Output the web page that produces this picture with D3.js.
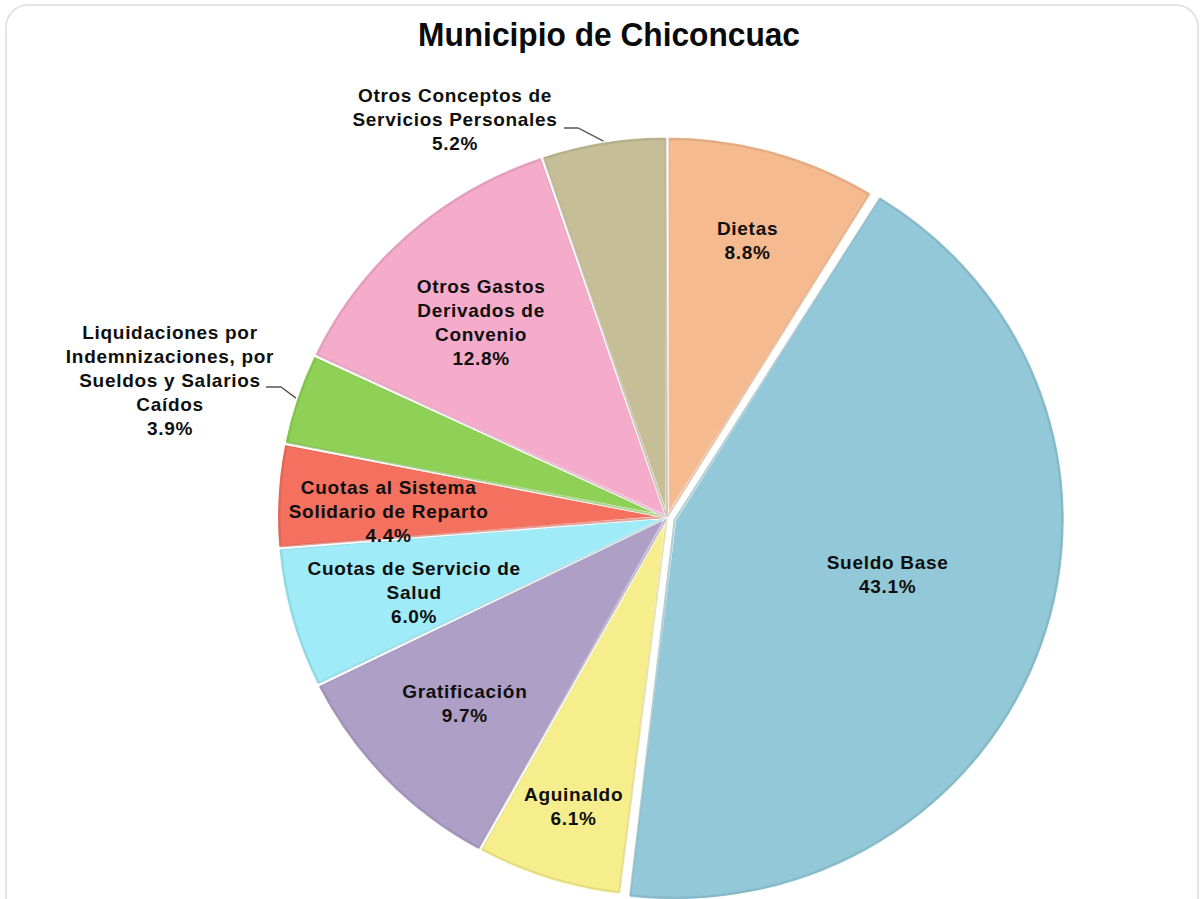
<!DOCTYPE html>
<html>
<head>
<meta charset="utf-8">
<script src="https://cdn.jsdelivr.net/npm/d3@7"></script>
<style>
  html, body { margin: 0; padding: 0; background: #ffffff; }
  svg { display: block; }
</style>
</head>
<body>
<svg id="chart" width="1204" height="899"></svg>
<script>
// ---- data ----
const categories = [
  "Dietas",
  "Sueldo Base",
  "Aguinaldo",
  "Gratificación",
  "Cuotas de Servicio de\nSalud",
  "Cuotas al Sistema\nSolidario de Reparto",
  "Liquidaciones por\nIndemnizaciones, por\nSueldos y Salarios\nCaídos",
  "Otros Gastos\nDerivados de\nConvenio",
  "Otros Conceptos de\nServicios Personales"
];
const values = [8.8, 43.1, 6.1, 9.7, 6.0, 4.4, 3.9, 12.8, 5.2];
const colors = ["#F5BA8F", "#93C8D8", "#F6EE8C", "#AE9FC6", "#9FEBF7", "#F4705F", "#8FD156", "#F5ACCB", "#C6BE97"];
const title = "Municipio de Chiconcuac";

// ---- layout ----
const W = 1204, H = 899;
const cx = 667, cy = 517, R = 381, sx = 1.025;
// label placement: radius (px) along slice mid-angle plus nudges; outside => leader line
const labelLayout = [
  {r: 288, dx: 0, dy: 0},
  {r: 228, dx: 0, dy: -18},
  {r: 304, dx: 2, dy: 0},
  {r: 273, dx: 0, dy: -2},
  {r: 260, dx: 4, dy: 6},
  {r: 272, dx: 0, dy: 10},
  {outside: true, x: 170, y: 380, elbow: [[281, 387], [266, 387]]},
  {r: 265, dx: -5, dy: 3},
  {outside: true, x: 455, y: 119, elbow: [[578, 128], [564, 128]]}
];
const explode = [0, 8, 0, 0, 0, 0, 0, 0, 0];

const svg = d3.select("#chart");

// card frame
svg.append("rect")
  .attr("x", 6).attr("y", 5).attr("width", 1192).attr("height", 920)
  .attr("rx", 22).attr("ry", 22)
  .attr("fill", "#ffffff").attr("stroke", "#dcdcdc").attr("stroke-width", 1.5);

// title
svg.append("text")
  .attr("x", 609).attr("y", 46)
  .attr("text-anchor", "middle")
  .attr("font-family", "'Liberation Sans Narrow', 'Arial Narrow', 'Liberation Sans', Arial, sans-serif")
  .attr("font-weight", "bold")
  .attr("font-size", 33)
  .attr("textLength", 382)
  .attr("lengthAdjust", "spacingAndGlyphs")
  .attr("fill", "#0a0a0a")
  .text(title);

const pie = d3.pie().sort(null).value(d => d)(values);
const arc = d3.arc().innerRadius(0).outerRadius(R);

const g = svg.append("g");
pie.forEach((d, i) => {
  const mid = (d.startAngle + d.endAngle) / 2;
  const ox = explode[i] * Math.sin(mid) * sx;
  const oy = -explode[i] * Math.cos(mid);
  const sg = g.append("g").attr("transform", `translate(${cx + ox},${cy + oy}) scale(${sx},1)`);
  const base = d3.color(colors[i]);
  sg.append("path")
    .attr("d", arc(d))
    .attr("fill", colors[i])
    .attr("stroke", "#ffffff")
    .attr("stroke-width", 3)
    .attr("stroke-linejoin", "round");
  // subtle bevel edge
  const inner = d3.arc().innerRadius(0).outerRadius(R - 3);
  sg.append("path")
    .attr("d", inner({...d, startAngle: d.startAngle + 0.004, endAngle: d.endAngle - 0.004}))
    .attr("fill", "none")
    .attr("stroke", base.darker(0.4))
    .attr("stroke-opacity", 0.6)
    .attr("stroke-width", 2);
});

// labels
const fontFam = "'Liberation Sans', Arial, Helvetica, sans-serif";
const lineH = 24;
pie.forEach((d, i) => {
  const L = labelLayout[i];
  const mid = (d.startAngle + d.endAngle) / 2;
  const lines = categories[i].split("\n").concat([d3.format(".1f")(values[i]) + "%"]);
  let x, y;
  if (L.outside) {
    x = L.x; y = L.y;
    const px = cx + sx * R * Math.sin(mid), py = cy - R * Math.cos(mid);
    const pts = [[px, py]].concat(L.elbow);
    svg.append("path")
      .attr("d", d3.line()(pts))
      .attr("fill", "none")
      .attr("stroke", "#555")
      .attr("stroke-width", 1.3);
  } else {
    x = cx + sx * L.r * Math.sin(mid) + L.dx;
    y = cy - L.r * Math.cos(mid) + L.dy;
  }
  const t = svg.append("text")
    .attr("text-anchor", "middle")
    .attr("font-family", fontFam)
    .attr("font-weight", "bold")
    .attr("font-size", 19)
    .attr("letter-spacing", 0.7)
    .attr("fill", "#0f0f0f");
  const y0 = y - (lines.length - 1) * lineH / 2;
  lines.forEach((ln, k) => {
    t.append("tspan")
      .attr("x", x)
      .attr("y", y0 + k * lineH)
      .attr("dy", "0.35em")
      .text(ln);
  });
});
</script>
</body>
</html>
